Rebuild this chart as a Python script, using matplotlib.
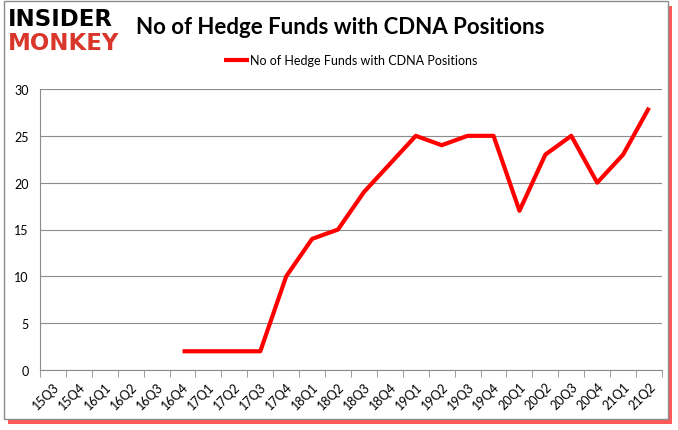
import numpy as np
import matplotlib.pyplot as plt
from matplotlib.patches import Rectangle

plt.rcParams['font.family'] = ['Lato', 'DejaVu Sans']

quarters = ['15Q3', '15Q4', '16Q1', '16Q2', '16Q3', '16Q4', '17Q1', '17Q2', '17Q3',
            '17Q4', '18Q1', '18Q2', '18Q3', '18Q4', '19Q1', '19Q2', '19Q3', '19Q4',
            '20Q1', '20Q2', '20Q3', '20Q4', '21Q1', '21Q2']
funds = [np.nan, np.nan, np.nan, np.nan, np.nan, 2, 2, 2, 2,
         10, 14, 15, 19, 22, 25, 24, 25, 25,
         17, 23, 25, 20, 23, 28]
series_name = 'No of Hedge Funds with CDNA Positions'

W, H = 678, 431
fig = plt.figure(figsize=(W / 100, H / 100), dpi=100)
fig.patch.set_facecolor('white')

# frame with red drop shadow
fig.patches.append(Rectangle((8 / W, 1 - 425 / H), 664 / W, 418 / H, transform=fig.transFigure,
                             facecolor='#ff2020', edgecolor='none', alpha=0.75, zorder=0))
fig.patches.append(Rectangle((4 / W, 1 - 420 / H), 664 / W, 418 / H, transform=fig.transFigure,
                             facecolor='white', edgecolor='#8c8c8c', lw=1.0, zorder=1))

ax = fig.add_axes([40 / W, 1 - 371 / H, 622 / W, 281 / H])
ax.set_zorder(2)
ax.patch.set_alpha(0)
x = np.arange(len(quarters))
ax.plot(x, funds, color='#ff0000', lw=3, solid_joinstyle='round', solid_capstyle='butt',
        label=series_name)

ax.set_xlim(-0.5, len(quarters) - 0.5)
ax.set_ylim(0, 30)
ax.set_yticks(range(0, 31, 5))
ax.yaxis.grid(True, color='#8c8c8c', lw=0.8)
ax.set_axisbelow(True)
ax.tick_params(axis='y', length=0, labelsize=9, pad=8)

ax.set_xticks(x)
ax.set_xticklabels(quarters, rotation=45, ha='right', rotation_mode='anchor', fontsize=9)
ax.tick_params(axis='x', which='major', length=0, pad=7)
ax.set_xticks(np.arange(-0.5, len(quarters), 1), minor=True)
ax.tick_params(axis='x', which='minor', length=5, color='#8c8c8c', direction='out')

for s in ['top', 'right']:
    ax.spines[s].set_visible(False)
ax.spines['left'].set_color('#8c8c8c')
ax.spines['bottom'].set_color('#8c8c8c')

ax.legend(loc='center', bbox_to_anchor=(0.5, 1.103), frameon=False, fontsize=9,
          handlelength=2.0, handletextpad=0.1)

fig.text(340 / W, 1 - 27 / H, series_name, ha='center', va='center', fontsize=16,
         fontweight='bold')
fig.text(8 / W, 1 - 19 / H, 'INSIDER', ha='left', va='center', fontsize=16.5,
         fontweight='heavy', color='black', family='DejaVu Sans')
fig.text(8 / W, 1 - 43 / H, 'MONKEY', ha='left', va='center', fontsize=16.5,
         fontweight='heavy', color='#d9372b', family='DejaVu Sans')

fig.savefig('out.png', dpi=100)
